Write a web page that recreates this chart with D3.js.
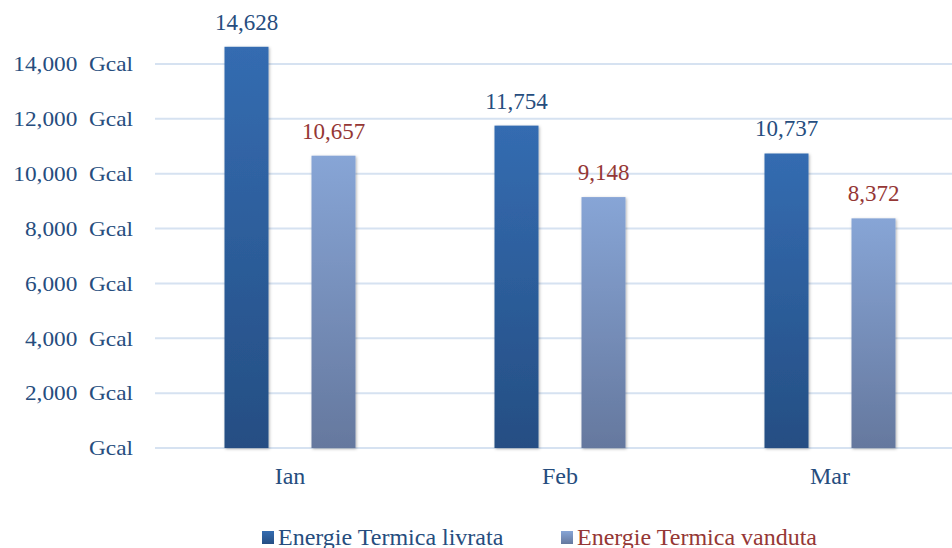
<!DOCTYPE html>
<html>
<head>
<meta charset="utf-8">
<script src="https://cdn.jsdelivr.net/npm/d3@7"></script>
<style>
body { margin:0; background:#fff; }
svg text { font-family:"Liberation Serif","Times New Roman",serif; }
</style>
</head>
<body>
<div id="chart"></div>
<script>
var months = ['Ian','Feb','Mar']
var livrata = [14628, 11754, 10737]
var vanduta = [10657, 9148, 8372]
var seriesNames = ['Energie Termica livrata','Energie Termica vanduta']
var yTicks = [0,2000,4000,6000,8000,10000,12000,14000]

var width = 952, height = 548
var svg = d3.select('#chart').append('svg').attr('width',width).attr('height',height)

var x = d3.scaleBand().domain(months).range([155,965])
var y = d3.scaleLinear().domain([0,14000]).range([448,64])
var fmt = d3.format(',')

var defs = svg.append('defs')
function grad(id,top,bot){
	var g = defs.append('linearGradient').attr('id',id).attr('x1',0).attr('y1',0).attr('x2',0).attr('y2',1)
	g.append('stop').attr('offset','0%').attr('stop-color',top)
	g.append('stop').attr('offset','100%').attr('stop-color',bot)
}
grad('gDark','#346cb1','#254e83')
grad('gLight','#87a5d6','#65789e')
var f = defs.append('filter').attr('id','shadow').attr('x','-20%').attr('y','-5%').attr('width','140%').attr('height','110%')
f.append('feDropShadow').attr('dx',1).attr('dy',1).attr('stdDeviation',1.5).attr('flood-color','#000').attr('flood-opacity',0.3)

// gridlines
var grid = svg.append('g').attr('id','grid')
yTicks.forEach(function(t){
	grid.append('line').attr('x1',155).attr('x2',width).attr('y1',y(t)).attr('y2',y(t))
		.style('stroke','#d6e2f1').style('stroke-width',2)
})

// y axis labels
var yAxis = svg.append('g').attr('transform','translate(133,0)')
	.call(d3.axisLeft(y).tickValues(yTicks).tickSize(0).tickPadding(0)
		.tickFormat(function(d){ return (d===0 ? '' : fmt(d)) + '\u00a0\u00a0Gcal' }))
yAxis.select('.domain').remove()
yAxis.selectAll('text').style('font-size','21px').style('fill','#264d7e')
	.style('font-family','"Liberation Serif",serif').attr('transform','scale(1.11,1)')

// x axis labels
var xAxis = svg.append('g').attr('transform','translate(0,467)')
	.call(d3.axisBottom(x).tickSize(0).tickPadding(0))
xAxis.select('.domain').remove()
xAxis.selectAll('text').style('font-size','24px').style('fill','#264d7e')
	.style('font-family','"Liberation Serif",serif')

var barW = 44, gap = 43
var bars = svg.append('g').attr('id','bars')
function drawSeries(vals,offset,fill,color){
	vals.forEach(function(v,i){
		var cx = x(months[i]) + x.bandwidth()/2 + offset
		bars.append('rect').attr('x',cx - barW/2).attr('width',barW)
			.attr('y',y(v)).attr('height',y(0)-y(v))
			.attr('fill','url(#'+fill+')').attr('filter','url(#shadow)')
		bars.append('text').attr('x',cx).attr('y',y(v)-17).attr('text-anchor','middle')
			.style('font-size','23px').style('fill',color).text(fmt(v))
	})
}
drawSeries(livrata,-(barW+gap)/2,'gDark','#264d7e')
drawSeries(vanduta,(barW+gap)/2,'gLight','#953735')

// legend
var legend = svg.append('g').attr('id','legend')
var legItems = [
	{name:seriesNames[0], fill:'gDark', color:'#264d7e', x:262},
	{name:seriesNames[1], fill:'gLight', color:'#953735', x:561}
]
legItems.forEach(function(d){
	legend.append('rect').attr('x',d.x).attr('y',531).attr('width',12).attr('height',13).attr('fill','url(#'+d.fill+')')
	legend.append('text').attr('x',d.x+16).attr('y',545).style('font-size','24px').style('fill',d.color).text(d.name)
})
</script>
</body>
</html>
